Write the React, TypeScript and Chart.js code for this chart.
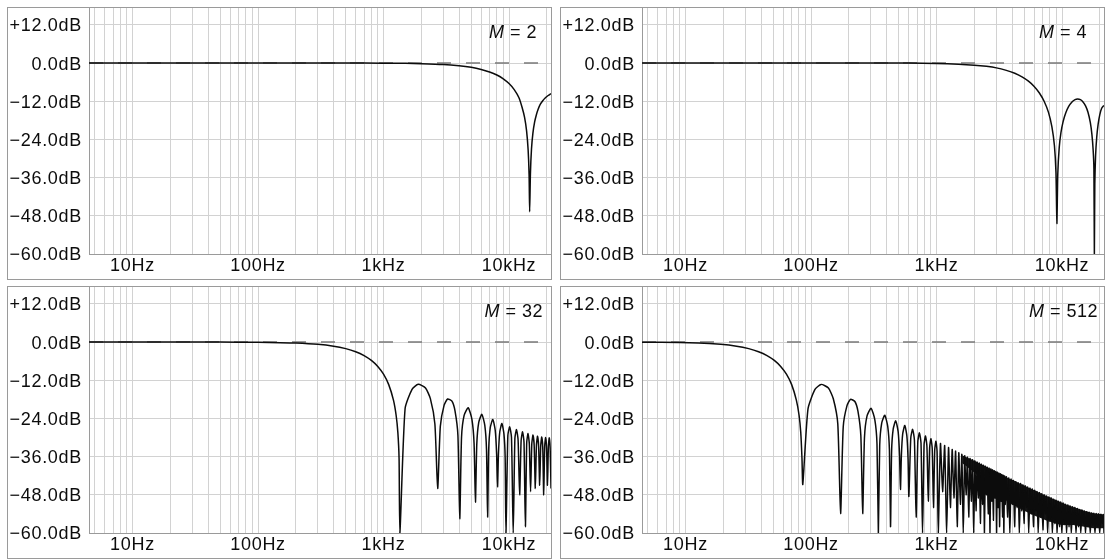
import React, { useEffect, useRef } from "react";
import { Chart, registerables } from "chart.js";

Chart.register(...registerables);

// Axis ranges: frequency in Hz (log), level in dB
const FREQ_MIN = 4.5;
const FREQ_MAX = 21600;
const LEVEL_MIN = -60;
const LEVEL_MAX = 17.3;

// Frequency grid lines and the decades that carry a label
const freqGridValues = [
  5, 6, 7, 8, 9, 10, 20, 30, 40, 50, 60, 70, 80, 90, 100, 200, 300, 400, 500, 600, 700, 800, 900,
  1000, 2000, 3000, 4000, 5000, 6000, 7000, 8000, 9000, 10000, 20000,
];
const freqTickValues = [10, 100, 1000, 10000];
const freqTickLabels = ["10Hz", "100Hz", "1kHz", "10kHz"];

// Level grid lines and their labels
const levelTickValues = [-60, -48, -36, -24, -12, 0, 12];
const levelTickLabels = ["\u221260.0dB", "\u221248.0dB", "\u221236.0dB", "\u221224.0dB", "\u221212.0dB", "0.0dB", "+12.0dB"];

// Moving-average responses: [frequency Hz, level dB]
const responseM2: [number, number][] = [
  [4.5, 0], [500, 0], [1000, -0.05], [1500, -0.1], [2000, -0.2], [3000, -0.45], [4000, -0.85],
  [5000, -1.35], [6000, -2.0], [7000, -2.8], [8000, -3.75], [9000, -4.95], [10000, -6.45],
  [11000, -8.35], [12000, -10.9], [12700, -13.9], [13300, -17.1], [13800, -21.3], [14200, -27.3],
  [14450, -35], [14600, -46.7], [14800, -35], [15100, -27], [15500, -22], [16000, -18.5],
  [16500, -16.3], [17000, -14.7], [17600, -13.2], [18500, -11.9], [19500, -10.9], [20500, -10.2],
  [21600, -9.6],
];

const responseM4: [number, number][] = [
  [4.5, 0], [300, 0], [600, -0.02], [1000, -0.16], [1500, -0.37], [2000, -0.66], [2500, -1.04],
  [3000, -1.51], [3600, -2.3], [4200, -3.2], [4800, -4.35], [5400, -5.7], [6000, -7.35],
  [6600, -9.4], [7200, -12.0], [7800, -15.5], [8300, -20.0], [8700, -26.0], [8950, -34.5],
  [9100, -50.4], [9250, -34.9], [9500, -26.5], [9800, -21.9], [10200, -18.4], [10700, -15.7],
  [11300, -13.64], [12000, -12.23], [12700, -11.51], [13300, -11.3], [14000, -11.5], [14700, -12.22],
  [15400, -13.47], [16100, -15.46], [16800, -18.65], [17300, -22.4], [17700, -27.3], [17950, -33.3],
  [18100, -60], [18250, -37.8], [18500, -29.3], [18900, -23.3], [19400, -19.2], [20000, -16.2],
  [20700, -14.2], [21600, -13.3],
];

const responseM32: [number, number][] = [
  [4.5, 0], [50, -0.02], [100, -0.08], [150, -0.18], [200, -0.31], [300, -0.72], [400, -1.29],
  [500, -2.06], [600, -3.03], [700, -4.25], [800, -5.77], [900, -7.67], [1000, -10.09],
  [1100, -13.38], [1200, -18.24], [1260, -23.0], [1300, -28.3], [1330, -36.5], [1350, -60],
  [1485, -20.94], [1687, -14.86], [1890, -13.27], [2160, -14.43], [2362, -17.78], [2565, -25.68], [2700, -46],
  [2835, -26.49], [3037, -19.89], [3240, -17.89], [3510, -18.58], [3712, -21.64], [3915, -29.29], [4050, -55.5],
  [4185, -29.8], [4387, -23.02], [4725, -20.65], [5062, -24.26], [5265, -31.79], [5400, -50.3],
  [5535, -32.11], [5737, -25.23], [6075, -22.72], [6412, -26.2], [6615, -33.66], [6750, -55],
  [6885, -33.86], [7087, -26.93], [7425, -24.32], [7762, -27.72], [7965, -35.13], [8100, -45.5],
  [8235, -35.25], [8437, -28.27], [8775, -25.6], [9112, -28.94], [9315, -36.32], [9450, -60],
  [9787, -29.36], [10125, -26.65], [10462, -29.96], [10800, -60],
  [11137, -30.25], [11475, -27.5], [11812, -30.75], [12150, -48],
  [12487, -30.95], [12825, -28.2], [13162, -31.45], [13500, -58],
  [13837, -31.5], [14175, -28.77], [14512, -32.0], [14850, -47],
  [15187, -32.0], [15525, -29.23], [15862, -32.4], [16200, -46],
  [16537, -32.35], [16875, -29.58], [17212, -32.75], [17550, -45],
  [17887, -32.6], [18225, -29.84], [18562, -33.0], [18900, -48],
  [19237, -32.8], [19575, -30.01], [19912, -33.2], [20250, -45],
  [20587, -32.9], [20925, -30.09], [21262, -33.2], [21600, -46],
];

const responseM512: [number, number][] = [
  [4.5, -0.04], [6.4, -0.08], [12.7, -0.31], [19.1, -0.72], [25.5, -1.29], [31.9, -2.06],
  [38.2, -3.03], [44.6, -4.25], [51, -5.77], [57.3, -7.67], [63.7, -10.09], [70.1, -13.38],
  [76.4, -18.24], [80.3, -23.0], [82.8, -28.3], [84.7, -36.5], [86, -44.7],
  [94.6, -20.97], [107.5, -14.89], [120.4, -13.3], [137.6, -14.46], [150.5, -17.81], [163.4, -25.71], [172, -53.9],
  [180.6, -26.59], [193.5, -19.99], [206.4, -17.99], [223.6, -18.68], [236.5, -21.74], [249.4, -29.39], [258, -53.9],
  [266.6, -29.97], [279.5, -23.19], [301, -20.82], [322.5, -24.43], [335.4, -31.96], [344, -60],
  [352.6, -32.4], [365.5, -25.52], [387, -23.01], [408.5, -26.49], [421.4, -33.95], [430, -58],
  [438.6, -34.29], [451.5, -27.36], [473, -24.75], [494.5, -28.15], [507.4, -35.56], [516, -46.3],
  [524.6, -35.85], [537.5, -28.87], [559, -26.2], [580.5, -29.54], [593.4, -36.92], [602, -48.5],
  [623.5, -30.15], [645, -27.44], [666.5, -30.75], [688, -55],
  [709.5, -31.28], [731, -28.53], [752.5, -31.78], [774, -60],
  [795.5, -32.25], [817, -29.5], [838.5, -32.75], [860, -50],
  [881.5, -33.1], [903, -30.37], [924.5, -33.6], [946, -52],
  [967.5, -33.9], [989, -31.16], [1010.5, -34.4], [1032, -60],
  [1075, -31.88], [1118, -47], [1161, -32.55], [1204, -60], [1247, -33.17], [1290, -52],
  [1333, -33.75], [1376, -49], [1419, -34.29], [1462, -58], [1505, -34.8], [1548, -51],
  [1591, -35.29], [1634, -60], [1677, -35.74], [1720, -48], [1763, -36.18], [1806, -55],
  [1849, -36.59], [1892, -50], [1935, -36.99], [1978, -60], [2021, -37.36], [2064, -53],
  [2107, -37.73], [2150, -49], [2193, -38.07], [2236, -57], [2279, -38.41], [2322, -51],
  [2365, -38.73], [2408, -60], [2451, -39.04], [2494, -48], [2537, -39.34], [2580, -54],
  [2623, -39.63], [2666, -60], [2709, -39.91], [2752, -50], [2795, -40.18], [2838, -56],
  [2881, -40.44], [2924, -49], [2967, -40.7], [3010, -60], [3053, -40.95], [3096, -52],
  [3139, -41.19], [3182, -58], [3225, -41.42], [3268, -50], [3311, -41.65], [3354, -55],
  [3397, -41.88], [3440, -60], [3483, -42.09], [3526, -51],
  [3600, -42.3], [3680, -55], [3760, -42.7], [3840, -60], [3925, -43.1], [4010, -51],
  [4100, -43.5], [4190, -58], [4280, -43.9], [4375, -52], [4470, -44.2], [4570, -60],
  [4670, -44.5], [4770, -53], [4875, -44.9], [4980, -57], [5090, -45.2], [5200, -52],
  [5315, -45.6], [5430, -60], [5550, -45.9], [5670, -54], [5795, -46.2], [5920, -58],
  [6050, -46.6], [6185, -53], [6320, -47.0], [6460, -60], [6600, -47.3], [6745, -55],
  [6895, -47.7], [7045, -59], [7200, -48.0], [7360, -54], [7520, -48.4], [7685, -60],
  [7855, -48.7], [8025, -56], [8200, -49.0], [8380, -60], [8565, -49.4], [8755, -57],
  [8945, -49.7], [9140, -60], [9340, -50.0], [9545, -58], [9755, -50.3], [9970, -60],
  [10190, -50.6], [10410, -57], [10640, -51.0], [10875, -60], [11110, -51.2], [11355, -58],
  [11605, -51.5], [11860, -60], [12120, -51.8], [12385, -57], [12655, -52.0], [12935, -60],
  [13220, -52.3], [13510, -58], [13805, -52.6], [14110, -60], [14420, -52.8], [14735, -57],
  [15060, -53.1], [15390, -60], [15730, -53.3], [16075, -58], [16425, -53.5], [16785, -60],
  [17155, -53.7], [17530, -57.5], [17915, -53.8], [18310, -60], [18710, -53.9], [19120, -58],
  [19540, -54.0], [19970, -60], [20410, -54.1], [20855, -57], [21310, -54.2], [21600, -60],
];

// Where the M = 512 lobes pack tighter than a pixel they merge into a dark band
const bandUpperM512: [number, number][] = [
  [1600, -35.6], [2000, -37.3], [2400, -38.9], [3000, -40.8], [4000, -43.3], [5000, -45.1],
  [6000, -46.6], [7000, -47.8], [8000, -48.8], [10000, -50.5], [12000, -51.7], [15000, -53.0],
  [18000, -53.8], [21600, -54.2],
];
const bandLowerM512: [number, number][] = [
  [1600, -38], [2000, -41], [2400, -44], [3000, -47.5], [4000, -51], [5000, -53], [6000, -54.5],
  [7000, -55.5], [8000, -56.5], [10000, -57.5], [12000, -57.5], [15000, -58], [18000, -58.5],
  [21600, -58.5],
];

const FONT = "'Liberation Sans', Arial, Helvetica, sans-serif";
const GRID = "#d2d2d2";
const AXIS = "#9a9a9a";
const INK = "#0c0c0c";

// Slightly wider text for the tick labels
const labelSpacing = {
  id: "labelSpacing",
  beforeLayout(chart: any) {
    chart.ctx.letterSpacing = "0.7px";
  },
  beforeDraw(chart: any) {
    chart.ctx.letterSpacing = "0.7px";
  },
};

type PanelProps = {
  points: [number, number][];
  bandUpper?: [number, number][];
  bandLower?: [number, number][];
  m: string;
  left: number;
  top: number;
  labelRight: number;
};

const toXY = (pts: [number, number][]) => pts.map(([x, y]) => ({ x, y }));

function Panel({ points, bandUpper, bandLower, m, left, top, labelRight }: PanelProps) {
  const canvasRef = useRef<HTMLCanvasElement>(null);

  useEffect(() => {
    const canvas = canvasRef.current;
    if (!canvas) return;
    const tickFont = { family: FONT, size: 18, lineHeight: 1.2 };
    const datasets: any[] = [
      {
        data: toXY(points),
        borderColor: INK,
        borderWidth: 1.5,
        borderJoinStyle: "round",
        pointRadius: 0,
        tension: 0.2,
        fill: false,
      },
      {
        data: [
          { x: FREQ_MIN, y: 0 },
          { x: FREQ_MAX, y: 0 },
        ],
        borderColor: "#7a7a7a",
        borderWidth: 1.4,
        borderDash: [14, 15],
        pointRadius: 0,
        fill: false,
      },
    ];
    if (bandUpper && bandLower) {
      datasets.push(
        {
          data: toXY(bandUpper),
          borderWidth: 0,
          borderColor: "rgba(0,0,0,0)",
          backgroundColor: "rgba(8,8,8,0.95)",
          pointRadius: 0,
          tension: 0.2,
          fill: "+1",
        },
        {
          data: toXY(bandLower),
          borderWidth: 0,
          borderColor: "rgba(0,0,0,0)",
          pointRadius: 0,
          tension: 0.2,
          fill: false,
        }
      );
    }
    const chart = new Chart(canvas, {
      type: "line",
      data: { datasets },
      options: {
        animation: false,
        responsive: false,
        maintainAspectRatio: false,
        events: [],
        layout: { padding: 0, autoPadding: false },
        plugins: {
          legend: { display: false },
          tooltip: { enabled: false },
          filler: { propagate: false },
        },
        scales: {
          x: {
            type: "logarithmic",
            min: FREQ_MIN,
            max: FREQ_MAX,
            afterBuildTicks: (scale: any) => {
              scale.ticks = freqGridValues.map((value) => ({ value }));
            },
            afterFit: (scale: any) => {
              scale.height = 25;
              scale.paddingLeft = 0;
              scale.paddingRight = 0;
              scale.paddingTop = 0;
              scale.paddingBottom = 0;
            },
            ticks: {
              autoSkip: false,
              maxRotation: 0,
              minRotation: 0,
              padding: 1,
              color: INK,
              font: tickFont,
              callback: (value: any) => {
                const i = freqTickValues.indexOf(Number(value));
                return i >= 0 ? freqTickLabels[i] : "";
              },
            },
            grid: { color: GRID, lineWidth: 1, drawTicks: false },
            border: { color: AXIS, width: 1 },
          },
          y: {
            type: "linear",
            min: LEVEL_MIN,
            max: LEVEL_MAX,
            afterBuildTicks: (scale: any) => {
              scale.ticks = levelTickValues.map((value) => ({ value }));
            },
            afterFit: (scale: any) => {
              scale.width = 81;
              scale.paddingLeft = 0;
              scale.paddingRight = 0;
              scale.paddingTop = 0;
              scale.paddingBottom = 0;
            },
            ticks: {
              padding: 7,
              labelOffset: 1.5,
              color: INK,
              font: tickFont,
              callback: (value: any) => {
                const i = levelTickValues.indexOf(Number(value));
                return i >= 0 ? levelTickLabels[i] : "";
              },
            },
            grid: { color: GRID, lineWidth: 1, drawTicks: false },
            border: { color: AXIS, width: 1 },
          },
        },
      } as any,
      plugins: [labelSpacing],
    });
    return () => chart.destroy();
  }, [points, bandUpper, bandLower]);

  return (
    <div
      style={{
        position: "absolute",
        left,
        top,
        width: 543,
        height: 271,
        border: `1px solid ${AXIS}`,
        background: "#fff",
      }}
    >
      <canvas
        ref={canvasRef}
        width={543}
        height={271}
        style={{ display: "block", width: 543, height: 271 }}
      />
      <span
        style={{
          position: "absolute",
          right: labelRight,
          top: 14.5,
          fontFamily: FONT,
          fontSize: 18,
          lineHeight: "18px",
          color: INK,
          whiteSpace: "nowrap",
          letterSpacing: "0.5px",
        }}
      >
        <i>M</i> = {m}
      </span>
    </div>
  );
}

export default function App() {
  return (
    <div
      style={{
        position: "absolute",
        left: 0,
        top: 0,
        width: 1105,
        height: 559,
        background: "#fff",
        overflow: "hidden",
      }}
    >
      <Panel points={responseM2} m="2" left={7} top={7} labelRight={14} />
      <Panel points={responseM4} m="4" left={560} top={7} labelRight={17} />
      <Panel points={responseM32} m="32" left={7} top={286} labelRight={8} />
      <Panel
        points={responseM512}
        bandUpper={bandUpperM512}
        bandLower={bandLowerM512}
        m="512"
        left={560}
        top={286}
        labelRight={6}
      />
    </div>
  );
}
